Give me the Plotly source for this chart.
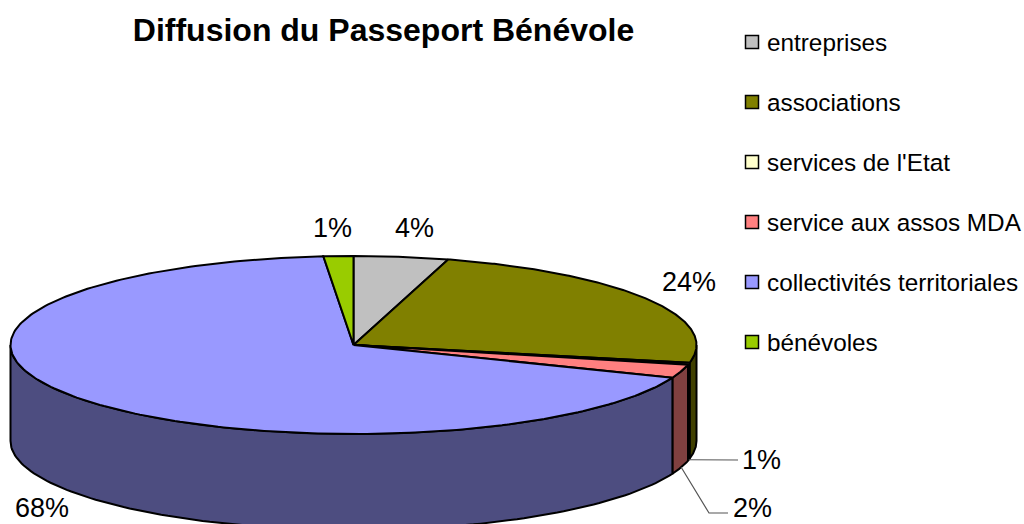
import numpy as np
import plotly.graph_objects as go

categories = ["entreprises", "associations", "services de l'Etat", "service aux assos MDA", "collectivités territoriales", "bénévoles"]
values = [4.45, 23.75, 0.35, 2.45, 67.6, 1.4]
pct_labels = ["4%", "24%", "1%", "2%", "68%", "1%"]
top_colors = ["#C0C0C0", "#808000", "#FFFFCC", "#FF8080", "#9999FF", "#99CC00"]
side_colors = ["#606060", "#404000", "#808066", "#804040", "#4D4D80", "#4D6600"]

W, H = 1024, 524
CX, CY, RX, RY, DEPTH = 353.5, 345.0, 343.0, 89.0, 96.0
LEGEND_X, LEGEND_TEXT_X, LEGEND_Y0, LEGEND_DY = 752, 765, 42, 60
LABEL_POS = [(414, 228), (689, 282), (761, 460), (752, 508), (42, 508), (332, 228)]
ELBOWS = {2: [(716, 460), (738, 460)], 3: [(709, 513), (728, 513)]}
LINE = dict(color="black", width=2)


def rim(theta_deg, dy=0.0):
    t = np.radians(theta_deg)
    return CX + RX * np.sin(t), CY - RY * np.cos(t) + dy


fig = go.Figure()
bounds = np.concatenate([[0], np.cumsum(values)]) / sum(values) * 360

# side walls: only the part of each slice facing the viewer
for i in range(len(values)):
    a, b = max(bounds[i], 90), min(bounds[i + 1], 270)
    if b <= a:
        continue
    th = np.linspace(a, b, 120)
    x1, y1 = rim(th)
    x2, y2 = rim(th[::-1], DEPTH)
    fig.add_trace(go.Scatter(x=np.r_[x1, x2, x1[0]], y=np.r_[y1, y2, y1[0]], mode="lines",
                             fill="toself", fillcolor=side_colors[i], line=LINE, hoverinfo="skip"))

# top face
for i in range(len(values)):
    th = np.linspace(bounds[i], bounds[i + 1], 240)
    x, y = rim(th)
    fig.add_trace(go.Scatter(x=np.r_[CX, x, CX], y=np.r_[CY, y, CY], mode="lines",
                             fill="toself", fillcolor=top_colors[i], line=LINE, hoverinfo="skip"))

# leader lines
for i, pts in ELBOWS.items():
    mid = (bounds[i] + bounds[i + 1]) / 2
    x0, y0 = rim(mid, DEPTH)
    fig.add_trace(go.Scatter(x=[x0] + [p[0] for p in pts], y=[y0] + [p[1] for p in pts], mode="lines",
                             line=dict(color="#555555", width=1.2), hoverinfo="skip"))

# legend
leg_y = [LEGEND_Y0 + LEGEND_DY * i for i in range(len(categories))]
fig.add_trace(go.Scatter(x=[LEGEND_X] * len(categories), y=leg_y, mode="markers",
                         marker=dict(symbol="square", size=13, color=top_colors,
                                     line=dict(color="black", width=1.5)), hoverinfo="skip"))
annotations = [dict(x=LEGEND_TEXT_X, y=yy, text=c, showarrow=False, xanchor="left", yanchor="middle",
                    font=dict(family="Liberation Sans", size=24.3, color="black"))
               for c, yy in zip(categories, leg_y)]
annotations += [dict(x=p[0], y=p[1], text=t, showarrow=False, xanchor="center", yanchor="middle",
                     font=dict(family="Liberation Sans", size=27, color="black"))
                for t, p in zip(pct_labels, LABEL_POS)]

fig.update_layout(
    width=W, height=H, margin=dict(l=0, r=0, t=0, b=0), showlegend=False,
    paper_bgcolor="white", plot_bgcolor="white",
    title=dict(text="<b>Diffusion du Passeport Bénévole</b>", x=383.5 / W, xanchor="center",
               y=1 - 30 / H, yanchor="middle",
               font=dict(family="Liberation Sans", size=32, color="black")),
    xaxis=dict(range=[0, W], visible=False, fixedrange=True),
    yaxis=dict(range=[H, 0], visible=False, fixedrange=True),
    annotations=annotations,
)
fig.write_html("out.html", config={"displayModeBar": False},
               post_script="document.body.style.margin='0';document.body.style.overflow='hidden';")
